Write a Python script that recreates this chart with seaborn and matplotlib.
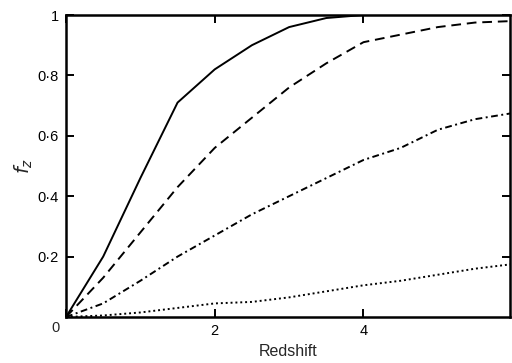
import matplotlib
matplotlib.use("Agg")
import matplotlib.pyplot as plt
import seaborn as sns
import pandas as pd

redshift = [0, 0.5, 1, 1.5, 2, 2.5, 3, 3.5, 4, 4.5, 5, 5.5, 6]
solid_vals = [0, 0.20, 0.46, 0.71, 0.82, 0.90, 0.96, 0.99, 1.0, 1.0, 1.0, 1.0, 1.0]
dashed_vals = [0, 0.13, 0.28, 0.43, 0.56, 0.66, 0.76, 0.84, 0.91, 0.935, 0.96, 0.975, 0.98]
dashdot_vals = [0, 0.045, 0.12, 0.20, 0.27, 0.34, 0.40, 0.46, 0.52, 0.56, 0.62, 0.655, 0.675]
dotted_vals = [0, 0.005, 0.015, 0.03, 0.045, 0.05, 0.065, 0.085, 0.105, 0.12, 0.14, 0.16, 0.175]

xticks = [0, 2, 4]
xticklabels = ["", "2", "4"]
yticks = [0.2, 0.4, 0.6, 0.8, 1.0]
yticklabels = ["0·2", "0·4", "0·6", "0·8", "1"]

sns.set_theme(style="ticks")
plt.rcParams["font.family"] = ["Liberation Sans", "DejaVu Sans"]

fig = plt.figure(figsize=(5.12, 3.63), dpi=100)
ax = fig.add_axes([66/512, 46/363, 444/512, 302/363])

series = [
    (solid_vals, "-"),
    (dashed_vals, (0, (5, 3))),
    (dashdot_vals, (0, (3.5, 1.8, 1, 1.8))),
    (dotted_vals, (0, (1, 1.5))),
]
for vals, ls in series:
    df = pd.DataFrame({"z": redshift, "f": vals})
    sns.lineplot(data=df, x="z", y="f", ax=ax, color="black", linewidth=1.4,
                 linestyle=ls)

ax.set_xlim(0, 5.97)
ax.set_ylim(0, 1.0)
ax.set_xticks(xticks)
ax.set_xticklabels(xticklabels)
ax.set_yticks(yticks)
ax.set_yticklabels(yticklabels)
ax.tick_params(direction="in", length=6, width=1.4, top=True, right=True,
               labelsize=10.5, pad=5, colors="black")
for s in ax.spines.values():
    s.set_linewidth(1.8)
    s.set_color("black")
    s.set_visible(True)

ax.annotate("0", xy=(0, 0), xycoords="data", xytext=(-11, -11),
            textcoords="offset pixels", ha="center", va="center", fontsize=10.5)

ax.set_xlabel("Redshift", fontsize=11.5, labelpad=4)
ax.set_ylabel("$f_z$", fontsize=14, labelpad=2)

fig.savefig("out.png", dpi=100)
